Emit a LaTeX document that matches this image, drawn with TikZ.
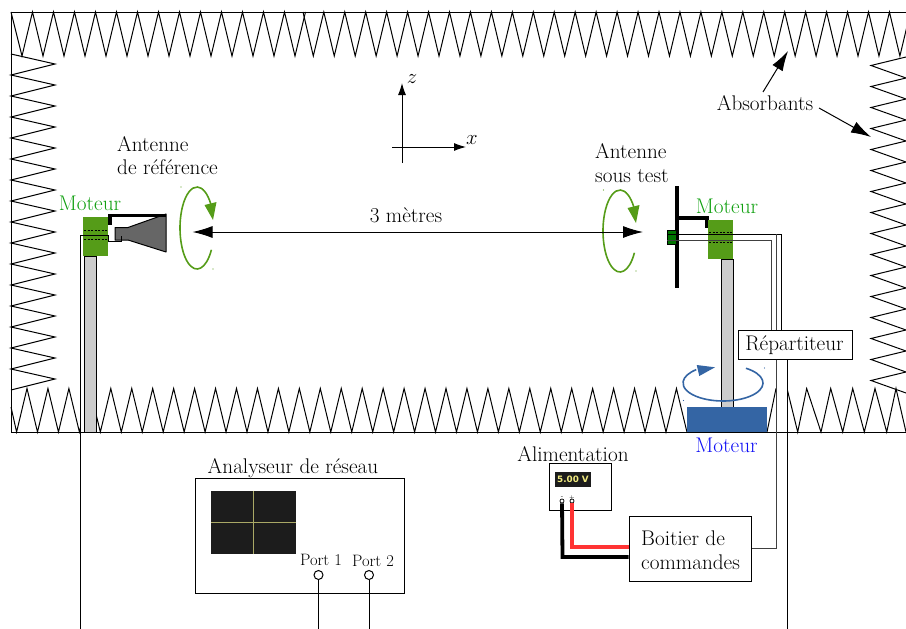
\documentclass[tikz,border=0pt]{standalone}
\usepackage{fontspec}
\setmainfont{Latin Modern Roman}
\newfontfamily\dispfont{DejaVu Sans}
\usetikzlibrary{arrows.meta}
\definecolor{grn}{HTML}{559C18}
\definecolor{grntxt}{HTML}{10A010}
\definecolor{blu}{HTML}{3465A4}
\definecolor{blutxt}{HTML}{1010F5}
\definecolor{scr}{HTML}{1C1C1C}
\definecolor{crossc}{HTML}{A9A866}
\definecolor{redw}{HTML}{FF3333}
\definecolor{dispy}{HTML}{F2EC80}
\tikzset{
  lbl/.style={inner sep=0pt,font=\fontsize{21.2}{25}\selectfont,anchor=base},
  lblw/.style={lbl,anchor=base west},
  small/.style={inner sep=0pt,font=\fontsize{16.5}{18}\selectfont,anchor=base},
  absorb/.style={line width=1pt,black},
  wire/.style={line width=1pt,black},
  box/.style={draw=black,line width=1pt,fill=white,inner sep=0pt},
  pole/.style={draw=black,line width=1pt,fill=black!20},
  bigarrow/.style={line width=1pt,-{Latex[length=20pt,width=12pt]}},
  rotg/.style={draw=grn,line width=1.6pt},
  rotb/.style={draw=blu,line width=1.6pt},
  dots/.style={line width=1pt,dash pattern=on 2pt off 1.5pt},
  arm/.style={line width=3.6pt,black},
  speck/.style={circle,inner sep=0.5pt}
}
\begin{document}
\begin{tikzpicture}[x=1pt,y=-1pt]
\useasboundingbox (0,0) rectangle (906,629);
\begin{scope}
\clip (0,0) rectangle (906,629);
% absorbers
\draw[absorb] (11,12) -- (906,12);
\draw[absorb] (11,432) -- (906,432);
\draw[absorb] (11,12) -- (11,432);
\draw[absorb] (11,12) foreach \k in {0,...,13} { -- ({22+21*\k},56) -- ({32.5+21*\k},12) };
\draw[absorb] (303,12) foreach \k in {0,...,28} { -- ({313.3+20.95*\k},56) -- ({323.8+20.95*\k},12) };
\draw[absorb] (11,54) foreach \k in {0,...,15} { -- (55,{64+21*\k}) -- (11,{75+21*\k}) };
\draw[absorb] (906,57) foreach \k in {0,...,15} { -- (871,{65.5+21*\k}) -- (906,{78+21*\k}) };
\draw[absorb] (11,407) -- (16.6,432) foreach \k in {0,...,31} { -- ({27+20.95*\k},388.5) -- ({37.5+20.95*\k},432) };
\draw[absorb] (767,432) -- (776,388.5);
\draw[absorb] (787,388.5) -- (797.7,432) -- (806.7,388.5) -- (821,432) -- (830.7,388.5) -- (842.7,432) -- (852.7,388.5) -- (864.3,432) -- (875,388.5) -- (886.7,432) -- (896,388.5) -- (906,432);
\end{scope}
\fill[white] (80,385) rectangle (97,431.5);
\fill[white] (776,385) rectangle (787,431.5);

% poles
\draw[pole] (84.5,256) rectangle (96.5,432);
\draw[pole] (721,259) rectangle (733,407);

% left motor
\path[fill=grn] (83,217) rectangle (108,256);
\node[inner sep=0pt,minimum width=25pt,minimum height=39pt] (motorL) at (95.5,236.5) {};
\draw[dots] (84,230) -- (107,230);
\draw[dots] (84,239) -- (107,239);
% horn
\coordinate (hornTop) at (166,214);
\draw[fill=black!60,line width=1pt,line join=round] (115,227.5) -- (128,227.5) -- (166,214) -- (166,252) -- (128,240) -- (115,240) -- cycle;
\coordinate (feedL) at (121,236);
% arm
\draw[arm] (110,225) -- (110,215.5) -- (hornTop |- 0,215.5);
% left wire
\coordinate (wireLbot) at (80,629);
\draw[wire] (wireLbot) -- (80,235) -- (108,235) -- (108,241) -- (121,241) -- (feedL);
% right antenna
\draw[line width=3.8pt] (677,186) -- (677,288);
\draw[arm] (677,218) -- (707,218) -- (707,228);
\path[fill=grn] (708,220) rectangle (733,259);
\node[inner sep=0pt,minimum width=25pt,minimum height=39pt] (motorR) at (720.5,239.5) {};
\draw[dots] (709,232) -- (732,232);
\draw[dots] (709,242) -- (732,242);
\draw[fill=green!45!black,line width=1pt] (667.5,230) rectangle (676,244);
\coordinate (wA) at (667,234);
\coordinate (wB) at (667,240);
\draw[wire,black!75] (wB) -- (771,240) -- (771,331);
\draw[wire] (wA) -- (781,234) -- (781,331);
\draw[wire,black!75] (776,234) -- (776,331);

% splitter
\node[box,minimum width=114pt,minimum height=29pt] (rep) at (795,344.5) {};
\node[lbl] (reptxt) at (794.5,350) {Répartiteur};
% blue motor
\fill[blu] (687,407) rectangle (767,432);
\node[inner sep=0pt,minimum width=80pt,minimum height=25pt] (motorB) at (727,419.5) {};
% blue rotation
\draw[rotb] (723,383) ++(55:40pt and 18pt) arc[start angle=55,end angle=-228,x radius=40pt,y radius=18pt];
\fill[blu] (696.7,365) -- (715,367.3) -- (699.3,376) -- cycle;
\node[speck,fill=blu] (sb1) at (764.5,368) {};
\node[speck,fill=blu] (sb2) at (683.5,400.5) {};

% green rotations
\draw[rotg] (197,228) ++(-32:17pt and 41pt) arc[start angle=-32,end angle=-324,x radius=17pt,y radius=41pt];
\fill[grn] (204.5,205) -- (216.5,202) -- (213,220) -- cycle;
\node[speck,fill=grn] (sg1) at (181,187) {};
\node[speck,fill=grn] (sg2) at (213,269) {};
\draw[rotg] (620,231) ++(-32:17pt and 41pt) arc[start angle=-32,end angle=-324,x radius=17pt,y radius=41pt];
\fill[grn] (627.5,208) -- (639.5,205) -- (636,223) -- cycle;
\node[speck,fill=grn] (sg3) at (603.5,190) {};
\node[speck,fill=grn] (sg4) at (636,271) {};

% distance
\coordinate (dL) at (192.5,232);
\coordinate (dR) at (643,232);
\draw[line width=1pt,{Latex[length=20pt,width=12pt]}-{Latex[length=20pt,width=12pt]}] (dL) -- (dR);
\node[lbl] (dist) at (406,222.5) {3 mètres};

% axes
\coordinate (zB) at (402,163);
\coordinate (zT) at (402,83);
\coordinate (xL) at (392,147);
\coordinate (xR) at (466,147);
\draw[line width=1pt,-{Latex[length=12pt,width=8pt]}] (zB) -- (zT);
\draw[line width=1pt,-{Latex[length=12pt,width=8pt]}] (xL) -- (xR);
\node[lbl] (zlab) at (412,83) {$z$};
\node[lbl] (xlab) at (472,144) {$x$};

% labels
\node[lblw] (a1) at (117,151) {Antenne};
\node[lblw] (a2) at (117,174) {de référence};
\node[lblw] (a3) at (595,158) {Antenne};
\node[lblw] (a4) at (595,182) {sous test};
\node[lbl,text=grntxt] (mL) at (90,210) {Moteur};
\node[lbl,text=grntxt] (mR) at (727,213) {Moteur};
\node[lbl,text=blutxt] (mB) at (726.5,452) {Moteur};
\node[lbl] (abs) at (765,110) {Absorbants};
\coordinate (tipA) at (788,51);
\coordinate (tipB) at (871,137);
\coordinate (fromA) at (763,92);
\coordinate (fromB) at (819,108);
\draw[bigarrow] (fromA) -- (tipA);
\draw[bigarrow] (fromB) -- (tipB);

% analyser
\node[box,minimum width=209pt,minimum height=115pt] (va) at (299.5,535.5) {};
\node[lbl] (valab) at (293,473) {Analyseur de réseau};
\node[fill=scr,inner sep=0pt,minimum width=85pt,minimum height=63pt] (screen) at (253.5,522.5) {};
\draw[crossc,line width=1.1pt] (screen.north) -- (screen.south);
\draw[crossc,line width=1.1pt] (screen.west) -- (screen.east);
\node[small] (p1lab) at (321,565) {Port 1};
\node[small] (p2lab) at (373,566) {Port 2};
\node[draw,circle,line width=1pt,fill=white,inner sep=0pt,minimum size=9pt] (p1) at (318.5,575) {};
\node[draw,circle,line width=1pt,fill=white,inner sep=0pt,minimum size=9pt] (p2) at (369,575) {};
\coordinate (p1b) at (318.5,629);
\coordinate (p2b) at (369,629);
\draw[wire] (p1.south) -- (p1b);
\draw[wire] (p2.south) -- (p2b);

% supply
\node[box,minimum width=62pt,minimum height=47pt] (psu) at (580,486.5) {};
\node[lbl] (psulab) at (573,461) {Alimentation};
\node[fill=scr,inner sep=0pt,minimum width=36pt,minimum height=15pt,text=dispy,font=\dispfont\bfseries\fontsize{8.8}{10}\selectfont] (disp) at (573,479.5) {5.00 V};
\node[draw,circle,line width=0.7pt,fill=white,inner sep=0pt,minimum size=4pt] (tm) at (562,501) {};
\node[draw,circle,line width=0.7pt,fill=white,inner sep=0pt,minimum size=4pt] (tp) at (572,501) {};
\node[inner sep=0pt,font=\fontsize{6}{6}\selectfont] (tml) at (562,497.5) {-};
\node[inner sep=0pt,font=\fontsize{6}{6}\selectfont] (tpl) at (572,497.5) {+};

% control box
\node[box,minimum width=122pt,minimum height=65pt] (ctrl) at (690,548.5) {};
\node[lblw] (c1) at (641,545) {Boitier de};
\node[lblw] (c2) at (641,569) {commandes};
\draw[line width=3.8pt,black] (tm) -- (562.5,557) -- (ctrl.west |- 0,557);
\draw[line width=3.8pt,redw] (tp) -- (572,547) -- (ctrl.west |- 0,547);
% lower wires
\coordinate (lowR) at (787,629);
\draw[wire] (rep.south -| 787,0) -- (lowR);
\draw[wire,black!75] (rep.south -| 776,0) -- (776,548) -- (ctrl.east |- 0,548);
\end{tikzpicture}
\end{document}
